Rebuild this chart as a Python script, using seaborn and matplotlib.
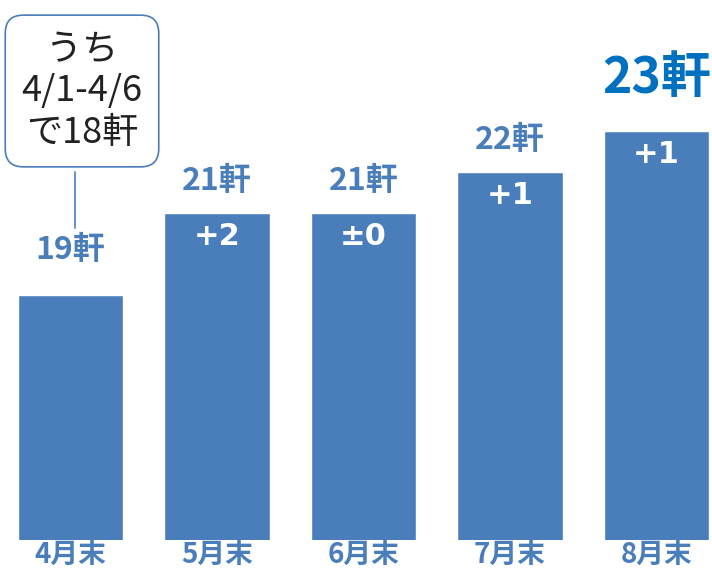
import numpy as np
import pandas as pd
import seaborn as sns
import matplotlib.pyplot as plt
from matplotlib.lines import Line2D

months = ['4月末', '5月末', '6月末', '7月末', '8月末']
counts = [19, 21, 21, 22, 23]
deltas = ['', '+2', '±0', '+1', '+1']
note = 'うち\n4/1-4/6\nで18軒'

sns.set_style('white')
plt.rcParams['font.family'] = ['Noto Sans CJK JP', 'DejaVu Sans']

blue = '#4a7ebb'
df = pd.DataFrame({'month': months, 'count': counts})

fig = plt.figure(figsize=(7.12, 5.74), dpi=100)
ax = fig.add_axes([0, 34 / 574, 1, 540 / 574])
sns.barplot(data=df, x='month', y='count', color=blue, saturation=1,
            width=0.72, ax=ax)

ax.set_xlim(-0.481, 4.379)
ax.set_ylim(13.02, 13.02 + 540 / 41)
sns.despine(ax=ax, left=True, bottom=True)
ax.set_yticks([])
ax.set_xlabel('')
ax.set_ylabel('')
ax.tick_params(axis='x', length=0, pad=1, labelsize=20, labelcolor=blue)
for t in ax.get_xticklabels():
    t.set_fontweight('bold')

last = len(counts) - 1
for i, (c, d) in enumerate(zip(counts, deltas)):
    if i == last:
        ax.annotate(f'{c}軒', (i, c), xytext=(0, 38), textcoords='offset points',
                    ha='center', va='center', fontsize=36, fontweight='bold',
                    color='#0070c0')
    else:
        off = 32 if i == 0 else 23
        ax.annotate(f'{c}軒', (i, c), xytext=(0, off), textcoords='offset points',
                    ha='center', va='center', fontsize=23, fontweight='bold',
                    color=blue)
    if d:
        ax.annotate(d, (i, c), xytext=(0, -17), textcoords='offset points',
                    ha='center', va='center', fontsize=22, fontweight='bold',
                    color='white', family=['DejaVu Sans'])

# callout box for the first month
fig.text(82 / 712, 1 - 91 / 574, note, ha='center', va='center', fontsize=26,
         linespacing=1.2, color='#222222',
         bbox=dict(boxstyle='round,pad=0.45,rounding_size=0.5', fc='white',
                   ec=blue, lw=1.2))
fig.add_artist(Line2D([75 / 712, 75 / 712], [1 - 172 / 574, 1 - 228 / 574],
                      transform=fig.transFigure, color=blue, lw=1.2))

fig.savefig('out.png', dpi=100)
